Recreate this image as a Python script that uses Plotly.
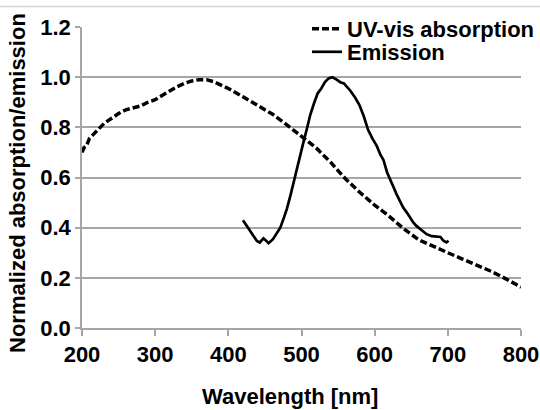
import plotly.graph_objects as go

# ---- data ----
abs_wavelength = [200, 203, 206, 210, 215, 220, 225, 230, 240, 250, 260, 270, 280, 290, 300,
                  310, 320, 330, 340, 350, 360, 370, 380, 390, 400, 420, 440, 460, 480, 500,
                  520, 540, 560, 580, 600, 620, 640, 660, 680, 700, 720, 740, 760, 780, 800]
abs_values = [0.70, 0.72, 0.725, 0.755, 0.77, 0.785, 0.80, 0.815, 0.835, 0.855, 0.87, 0.878, 0.885, 0.90, 0.91,
              0.928, 0.945, 0.962, 0.975, 0.985, 0.99, 0.99, 0.982, 0.97, 0.955, 0.922, 0.888, 0.853, 0.81, 0.765,
              0.718, 0.66, 0.595, 0.54, 0.49, 0.445, 0.395, 0.352, 0.325, 0.30, 0.275, 0.25, 0.225, 0.195, 0.163]

em_wavelength = [420, 427, 433, 439, 443, 448, 451, 455, 461, 466, 471, 476, 480, 485, 489, 494, 498,
                 503, 507, 512, 517, 522, 527, 532, 537, 542, 548, 553, 558, 563, 567, 573, 579, 585,
                 591, 597, 603, 608, 612, 617, 621, 626, 630, 635, 639, 644, 648, 653, 657, 664, 671,
                 678, 685, 690, 694, 698, 701]
em_values = [0.43, 0.40, 0.37, 0.347, 0.341, 0.357, 0.35, 0.338, 0.354, 0.375, 0.40, 0.44, 0.475, 0.53, 0.58, 0.64, 0.69,
             0.745, 0.79, 0.85, 0.895, 0.935, 0.955, 0.98, 0.995, 1.0, 0.99, 0.98, 0.975, 0.96, 0.945, 0.92, 0.89, 0.845,
             0.79, 0.755, 0.725, 0.69, 0.67, 0.62, 0.59, 0.56, 0.533, 0.505, 0.48, 0.46, 0.44, 0.42, 0.407, 0.39, 0.374,
             0.366, 0.365, 0.363, 0.348, 0.341, 0.348]

x_ticks = [200, 300, 400, 500, 600, 700, 800]
y_ticks = [0.0, 0.2, 0.4, 0.6, 0.8, 1.0, 1.2]

FONT = "Liberation Sans, Arial, Helvetica, sans-serif"
FS = 22
GRID = "#a6a6a6"

fig = go.Figure()
fig.add_trace(go.Scatter(
    x=abs_wavelength, y=abs_values, mode="lines", name="UV-vis absorption",
    line=dict(color="black", width=3.5, dash="7px,3px"), legend="legend", showlegend=True))
fig.add_trace(go.Scatter(
    x=em_wavelength, y=em_values, mode="lines", name="Emission",
    line=dict(color="black", width=2.7), legend="legend2", showlegend=True))

W, H = 540, 410
L, R, T, B = 82, 19, 27, 82
pw, ph = W - L - R, H - T - B

def px_x(p):
    return (p - L) / pw

def px_y(p):
    return (H - B - p) / ph

legend_common = dict(
    borderwidth=0, xanchor="left", yanchor="top",
    font=dict(family=FONT, size=FS, color="black", weight="bold"),
    itemclick=False, itemdoubleclick=False, visible=True,
)

fig.update_layout(
    width=W, height=H,
    margin=dict(l=L, r=R, t=T, b=B, pad=0, autoexpand=False),
    paper_bgcolor="white", plot_bgcolor="white",
    showlegend=True,
    font=dict(family=FONT, size=FS, color="black", weight="bold"),
    legend=dict(x=px_x(307), y=px_y(8), bgcolor="white", **legend_common),
    legend2=dict(x=px_x(307), y=px_y(31), bgcolor="rgba(0,0,0,0)", **legend_common),
    xaxis=dict(
        range=[200, 800], tickvals=x_ticks, ticktext=[str(v) for v in x_ticks],
        showgrid=False, zeroline=False,
        showline=True, linecolor=GRID, linewidth=1.5,
        ticks="outside", ticklen=6, tickcolor=GRID, tickwidth=1.5,
        tickfont=dict(family=FONT, size=FS, color="black", weight="bold"),
    ),
    yaxis=dict(
        range=[0, 1.2], tickvals=y_ticks, ticktext=[f"{v:.1f}" for v in y_ticks],
        showgrid=True, gridcolor=GRID, gridwidth=1.5, zeroline=False,
        showline=True, linecolor=GRID, linewidth=1.5,
        ticks="outside", ticklen=5, tickcolor=GRID, tickwidth=1.5,
        tickfont=dict(family=FONT, size=FS, color="black", weight="bold"),
    ),
    annotations=[
        dict(text="Normalized absorption/emission", xref="paper", yref="paper",
             x=px_x(17), y=px_y(183), textangle=-90, showarrow=False,
             xanchor="center", yanchor="middle",
             font=dict(family=FONT, size=FS, color="black", weight="bold")),
        dict(text="Wavelength [nm]", xref="paper", yref="paper",
             x=px_x(290), y=px_y(396), showarrow=False,
             xanchor="center", yanchor="middle",
             font=dict(family=FONT, size=FS, color="black", weight="bold")),
    ],
    shapes=[
        dict(type="line", xref="paper", yref="paper",
             x0=px_x(0), x1=px_x(540), y0=px_y(6.5), y1=px_y(6.5),
             line=dict(color="#d4d4d4", width=1.5), layer="below"),
    ],
)

fig.write_html("out.html", config={"displayModeBar": False},
               post_script="document.body.style.margin='0';")
